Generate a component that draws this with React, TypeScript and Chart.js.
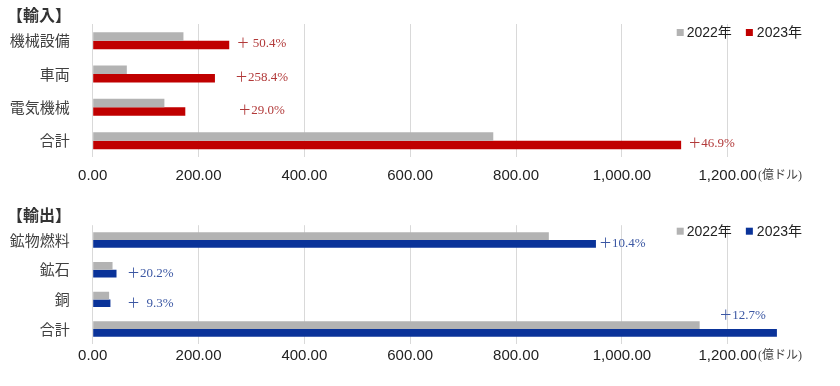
import React, { useEffect, useRef } from 'react';
import { Chart, registerables } from 'chart.js';

Chart.register(...registerables);

// ---- data ----
const importCategories = ['機械設備', '車両', '電気機械', '合計'];
const import2022 = [171.5, 64.5, 135.5, 757];
const import2023 = [258, 231, 175, 1112];
const importChangeLabels = ['＋ 50.4%', '＋258.4%', '＋29.0%', '＋46.9%'];

const exportCategories = ['鉱物燃料', '鉱石', '銅', '合計'];
const export2022 = [862, 37.5, 31, 1147];
const export2023 = [951, 45, 33.5, 1293];
const exportChangeLabels = ['＋10.4%', '＋20.2%', '＋  9.3%', '＋12.7%'];

const seriesLabels = ['2022年', '2023年'];
const xTickValues = [0, 200, 400, 600, 800, 1000, 1200];
const unitLabel = '(億ドル)';

type Placement = 'column' | 'end' | 'above';

interface PanelCfg {
  title: string;
  categories: string[];
  v2022: number[];
  v2023: number[];
  changeLabels: string[];
  color: string;
  textColor: string;
  placement: Placement[];
  columnValue: number;
  endGap: number;
  labelDy: number;
  areaTop: number;
  xAxisHeight: number;
  xTickPad: number;
  catPct: number;
  titleY: number;
  legendY: number;
}

const GRAY = '#b3b3b3';
const CJK = '"Noto Sans CJK JP", "Noto Sans", sans-serif';
const SANS = '"Liberation Sans", Arial, "Noto Sans CJK JP", sans-serif';
const SERIF = '"Liberation Serif", "Times New Roman", "Noto Sans CJK JP", serif';

const fmt = (v: number) =>
  Number(v).toLocaleString('en-US', { minimumFractionDigits: 2, maximumFractionDigits: 2 });

function makeOverlay(cfg: PanelCfg) {
  return {
    id: 'overlay',
    afterDraw(chart: any) {
      const ctx: CanvasRenderingContext2D = chart.ctx;
      const xs = chart.scales.x;
      ctx.save();
      // title
      ctx.fillStyle = '#333';
      ctx.font = `bold 16px ${CJK}`;
      ctx.textAlign = 'left';
      ctx.textBaseline = 'middle';
      ctx.fillText(cfg.title, 7, cfg.titleY);

      // legend
      ctx.font = `14px ${SANS}`;
      const right = 802;
      const w2 = ctx.measureText(seriesLabels[1]).width;
      const w1 = ctx.measureText(seriesLabels[0]).width;
      const x2Text = right - w2;
      const x2Box = x2Text - 11;
      const x1Text = x2Box - 14 - w1;
      const x1Box = x1Text - 10;
      ctx.fillStyle = GRAY;
      ctx.fillRect(x1Box, cfg.legendY - 4, 7, 7);
      ctx.fillStyle = cfg.color;
      ctx.fillRect(x2Box, cfg.legendY - 4, 7, 7);
      ctx.fillStyle = '#222';
      ctx.fillText(seriesLabels[0], x1Text, cfg.legendY);
      ctx.fillText(seriesLabels[1], x2Text, cfg.legendY);

      // change labels
      const meta = chart.getDatasetMeta(1);
      ctx.font = `13px ${SERIF}`;
      ctx.fillStyle = cfg.textColor;
      cfg.changeLabels.forEach((txt, i) => {
        const bar = meta.data[i];
        if (!bar) return;
        const p = cfg.placement[i];
        let x = bar.x;
        let y = bar.y + cfg.labelDy;
        if (p === 'column') {
          ctx.textAlign = 'center';
          x = xs.getPixelForValue(cfg.columnValue);
        } else if (p === 'end') {
          ctx.textAlign = 'left';
          x = bar.x + cfg.endGap;
        } else {
          ctx.textAlign = 'right';
          x = bar.x - 11;
          y = bar.y - 17;
        }
        ctx.fillText(txt, x, y);
      });

      // unit label
      const last = xTickValues[xTickValues.length - 1];
      ctx.font = `15px ${SANS}`;
      const lw = ctx.measureText(fmt(last)).width;
      const lx = xs.getPixelForValue(last) + lw / 2 + 1;
      const ly = chart.chartArea.bottom + cfg.xTickPad + 9;
      ctx.font = `12px ${SERIF}`;
      ctx.fillStyle = '#444';
      ctx.textAlign = 'left';
      ctx.fillText(unitLabel, lx, ly);
      ctx.restore();
    },
  };
}

function Panel({ cfg, top, height }: { cfg: PanelCfg; top: number; height: number }) {
  const ref = useRef<HTMLCanvasElement>(null);
  useEffect(() => {
    const chart = new Chart(ref.current as HTMLCanvasElement, {
      type: 'bar',
      data: {
        labels: cfg.categories,
        datasets: [
          {
            label: seriesLabels[0],
            data: cfg.v2022,
            backgroundColor: GRAY,
            categoryPercentage: cfg.catPct,
            barPercentage: 1,
          },
          {
            label: seriesLabels[1],
            data: cfg.v2023,
            backgroundColor: cfg.color,
            categoryPercentage: cfg.catPct,
            barPercentage: 1,
          },
        ],
      },
      options: {
        indexAxis: 'y',
        responsive: false,
        animation: false,
        devicePixelRatio: 1,
        layout: { padding: { top: cfg.areaTop, right: 48.8, left: 0, bottom: 0 } },
        plugins: { legend: { display: false }, tooltip: { enabled: false } },
        scales: {
          x: {
            min: 0,
            max: 1320,
            afterBuildTicks: (s: any) => {
              s.ticks = xTickValues.map((v) => ({ value: v }));
            },
            afterFit: (s: any) => {
              s.height = cfg.xAxisHeight;
            },
            grid: { color: '#d9d9d9', drawTicks: false, lineWidth: 1 },
            border: { display: false },
            ticks: {
              padding: cfg.xTickPad,
              autoSkip: false,
              maxRotation: 0,
              color: '#222',
              font: { family: SANS, size: 15 },
              callback: (v: any) => fmt(Number(v)),
            },
          },
          y: {
            grid: { display: false },
            border: { display: false },
            afterFit: (s: any) => {
              s.width = 92.7;
            },
            ticks: {
              padding: 15,
              color: '#404040',
              font: { family: CJK, size: 15 },
            },
          },
        },
      } as any,
      plugins: [makeOverlay(cfg)],
    });
    return () => chart.destroy();
  }, []);
  return (
    <canvas
      ref={ref}
      width={840}
      height={height}
      style={{ position: 'absolute', left: 0, top, width: 840, height }}
    />
  );
}

const importCfg: PanelCfg = {
  title: '【輸入】',
  categories: importCategories,
  v2022: import2022,
  v2023: import2023,
  changeLabels: importChangeLabels,
  color: '#c00000',
  textColor: '#b23a3a',
  placement: ['column', 'column', 'column', 'end'],
  columnValue: 319,
  endGap: 7,
  labelDy: -1,
  areaTop: 24,
  xAxisHeight: 32.7,
  xTickPad: 9.5,
  catPct: 0.51,
  titleY: 15,
  legendY: 33,
};

const exportCfg: PanelCfg = {
  title: '【輸出】',
  categories: exportCategories,
  v2022: export2022,
  v2023: export2023,
  changeLabels: exportChangeLabels,
  color: '#0a3399',
  textColor: '#3b57a3',
  placement: ['end', 'column', 'column', 'above'],
  columnValue: 109,
  endGap: 3,
  labelDy: 0,
  areaTop: 35.2,
  xAxisHeight: 42.1,
  xTickPad: 3,
  catPct: 0.52,
  titleY: 25,
  legendY: 41.7,
};

export default function App() {
  return (
    <div
      style={{
        position: 'fixed',
        left: 0,
        top: 0,
        width: 840,
        height: 386,
        background: '#fff',
        overflow: 'hidden',
      }}
    >
      <Panel cfg={importCfg} top={0} height={190} />
      <Panel cfg={exportCfg} top={190} height={196} />
    </div>
  );
}
